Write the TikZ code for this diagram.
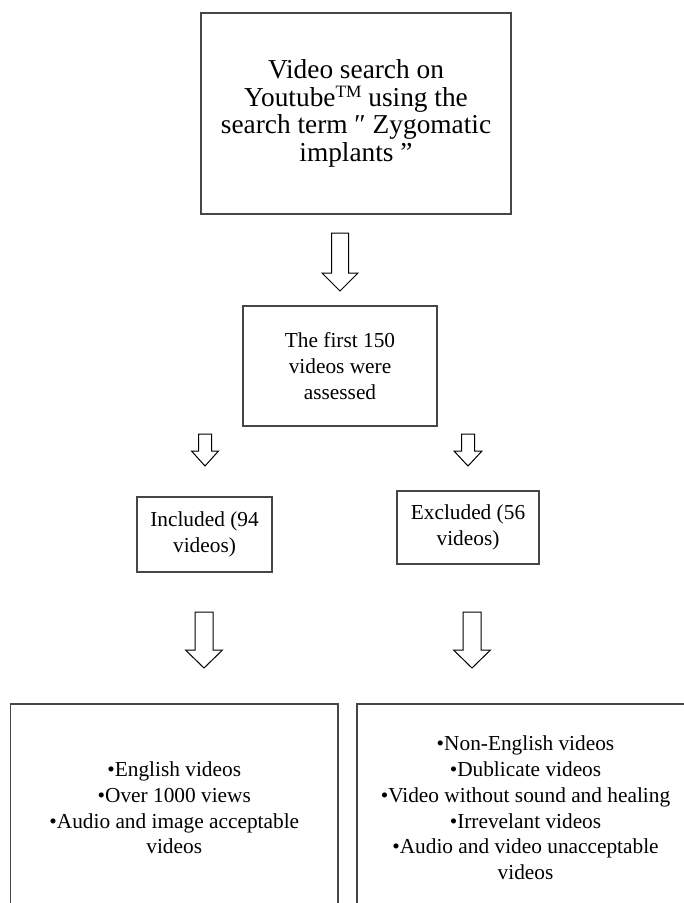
\documentclass[tikz,border=0pt]{standalone}
\usepackage{fontspec}
\setmainfont{Liberation Serif}
\definecolor{boxgray}{RGB}{70,70,70}
\newcommand{\hollowarrow}[6]{%
  \draw[arrowline] (#1-#5,#2) -- (#1+#5,#2) -- (#1+#5,#3) -- (#1+#6,#3) -- (#1,#4) -- (#1-#6,#3) -- (#1-#5,#3) -- cycle;}
\newcommand{\tmmark}{\raisebox{0.33em}{\fontsize{13}{13}\selectfont TM}}
\begin{document}
\begin{tikzpicture}[x=0.75pt,y=-0.75pt,
  boxstyle/.style={draw=boxgray, line width=1pt, inner sep=0pt, align=center, text=black,
    font=\fontsize{16}{19.3}\selectfont},
  arrowline/.style={draw=black, line width=0.75pt, line join=miter, fill=white}]
\clip (0,0) rectangle (684,903);
\fill[white] (0,0) rectangle (684,903);

\node[boxstyle, minimum width=310*0.75pt, minimum height=201*0.75pt,
  font=\fontsize{20.5}{20.8}\selectfont] (search) at (356,113.5)
  {Video search on\\ Youtube\tmmark{} using the\\ search term ″ Zygomatic\\ implants ”};

\node[boxstyle, minimum width=194*0.75pt, minimum height=120*0.75pt] (first) at (340,366)
  {The first 150\\ videos were\\ assessed};

\node[boxstyle, minimum width=135*0.75pt, minimum height=75*0.75pt] (incl) at (204.5,534.5)
  {Included (94\\ videos)};

\node[boxstyle, minimum width=142*0.75pt, minimum height=73*0.75pt] (excl) at (468,527.5)
  {Excluded (56\\ videos)};

\node[boxstyle, minimum width=327.5*0.75pt, minimum height=208*0.75pt] (incllist) at (174.25,808)
  {•English videos\\ •Over 1000 views\\ •Audio and image acceptable\\ videos};

\node[boxstyle, minimum width=337*0.75pt, minimum height=208*0.75pt] (excllist) at (525.5,808)
  {•Non-English videos\\ •Dublicate videos\\ •Video without sound and healing\\ •Irrevelant videos\\ •Audio and video unacceptable\\ videos};

% hollow block arrows: x, top, base of head, tip, half shaft, half head
\hollowarrow{340}{233}{273}{291}{8.5}{18}
\hollowarrow{205}{434}{451}{466}{6.5}{13.5}
\hollowarrow{468}{434}{451}{466}{6.5}{14}
\hollowarrow{204}{612}{650}{668}{9}{18.5}
\hollowarrow{472}{612}{650}{668}{9}{18.5}
\end{tikzpicture}
\end{document}
